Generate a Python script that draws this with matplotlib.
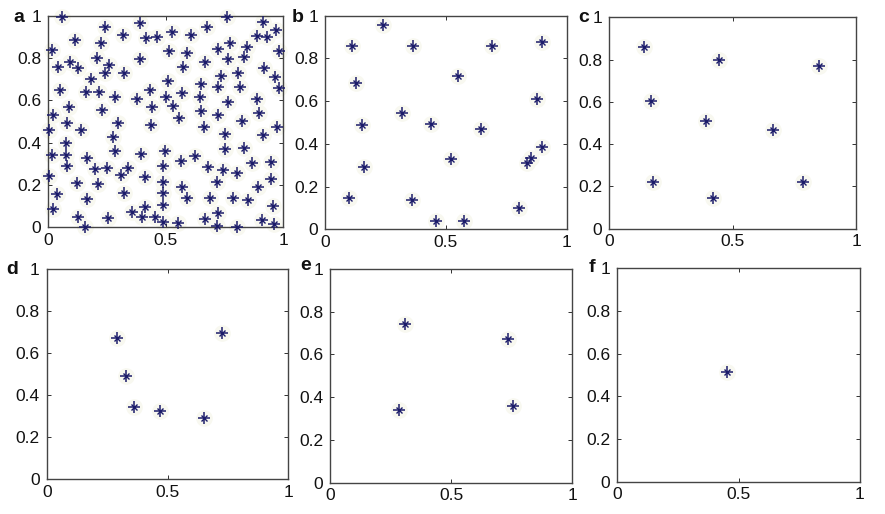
import matplotlib
matplotlib.use("Agg")
import matplotlib.pyplot as plt

plt.rcParams['font.family'] = ['Liberation Sans', 'DejaVu Sans']

# ---- data ----
a_x = [0.057, 0.241, 0.390, 0.759, 0.915, 0.969, 0.113, 0.319, 0.416, 0.461,
       0.525, 0.606, 0.677, 0.889, 0.932, 0.017, 0.223, 0.515, 0.589, 0.723,
       0.773, 0.847, 0.983, 0.043, 0.092, 0.128, 0.206, 0.260, 0.390, 0.241,
       0.322, 0.572, 0.665, 0.765, 0.834, 0.918, 0.966, 0.180, 0.508, 0.733,
       0.809, 0.050, 0.160, 0.217, 0.284, 0.433, 0.376, 0.501, 0.569, 0.648,
       0.645, 0.723, 0.816, 0.983, 0.766, 0.887, 0.088, 0.227, 0.440, 0.532,
       0.021, 0.078, 0.298, 0.437, 0.557, 0.651, 0.722, 0.823, 0.898, 0.004,
       0.139, 0.664, 0.972, 0.753, 0.915, 0.075, 0.277, 0.014, 0.074, 0.284,
       0.393, 0.498, 0.166, 0.078, 0.200, 0.251, 0.340, 0.489, 0.565, 0.623,
       0.753, 0.833, 0.679, 0.742, 0.804, 0.865, 0.946, 0.004, 0.308, 0.410,
       0.121, 0.213, 0.489, 0.567, 0.716, 0.894, 0.946, 0.035, 0.322, 0.487,
       0.166, 0.589, 0.688, 0.784, 0.851, 0.487, 0.021, 0.356, 0.411, 0.723,
       0.957, 0.128, 0.252, 0.397, 0.454, 0.489, 0.550, 0.665, 0.908, 0.156,
       0.719, 0.804, 0.960]
a_y = [0.992, 0.945, 0.964, 0.992, 0.972, 0.933, 0.885, 0.909, 0.893, 0.898,
       0.925, 0.909, 0.945, 0.904, 0.898, 0.838, 0.870, 0.835, 0.822, 0.841,
       0.870, 0.854, 0.835, 0.756, 0.783, 0.751, 0.799, 0.767, 0.794, 0.728,
       0.731, 0.759, 0.780, 0.797, 0.803, 0.751, 0.712, 0.699, 0.692, 0.715,
       0.728, 0.649, 0.640, 0.640, 0.614, 0.649, 0.608, 0.614, 0.633, 0.677,
       0.618, 0.662, 0.662, 0.657, 0.594, 0.608, 0.570, 0.554, 0.570, 0.573,
       0.531, 0.491, 0.491, 0.484, 0.515, 0.551, 0.531, 0.504, 0.539, 0.460,
       0.460, 0.473, 0.473, 0.441, 0.436, 0.400, 0.428, 0.342, 0.342, 0.362,
       0.347, 0.362, 0.326, 0.290, 0.276, 0.282, 0.282, 0.290, 0.313, 0.337,
       0.369, 0.373, 0.284, 0.271, 0.255, 0.302, 0.310, 0.244, 0.247, 0.236,
       0.211, 0.205, 0.213, 0.192, 0.213, 0.192, 0.227, 0.158, 0.164, 0.161,
       0.134, 0.137, 0.140, 0.140, 0.129, 0.106, 0.085, 0.074, 0.095, 0.069,
       0.101, 0.050, 0.046, 0.047, 0.050, 0.027, 0.022, 0.038, 0.035, 0.003,
       0.006, 0.003, 0.016]

b_x = [0.239, 0.110, 0.363, 0.692, 0.899, 0.128, 0.552, 0.876, 0.317, 0.154,
       0.440, 0.644, 0.899, 0.523, 0.854, 0.837, 0.161, 0.101, 0.360, 0.804,
       0.458, 0.577]
b_y = [0.956, 0.860, 0.860, 0.860, 0.878, 0.686, 0.719, 0.612, 0.543, 0.487,
       0.493, 0.471, 0.387, 0.329, 0.335, 0.312, 0.290, 0.148, 0.137, 0.098,
       0.037, 0.037]

c_x = [0.142, 0.446, 0.851, 0.170, 0.391, 0.662, 0.178, 0.786, 0.419]
c_y = [0.861, 0.798, 0.770, 0.606, 0.508, 0.467, 0.222, 0.222, 0.147]

d_x = [0.290, 0.724, 0.328, 0.361, 0.469, 0.651]
d_y = [0.673, 0.697, 0.489, 0.343, 0.324, 0.289]

e_x = [0.309, 0.736, 0.285, 0.757]
e_y = [0.741, 0.672, 0.340, 0.360]

f_x = [0.453]
f_y = [0.516]

panel_names = ['a', 'b', 'c', 'd', 'e', 'f']
xticks = [0, 0.5, 1]
xtick_labels = ['0', '0.5', '1']
yticks = [0, 0.2, 0.4, 0.6, 0.8, 1]
ytick_labels = ['0', '0.2', '0.4', '0.6', '0.8', '1']

# ---- layout (figure fractions) ----
positions = [
    [0.0546, 0.5578, 0.2655, 0.4117],
    [0.3672, 0.5539, 0.2731, 0.4156],
    [0.6885, 0.5551, 0.2788, 0.4113],
    [0.0528, 0.0681, 0.2730, 0.4086],
    [0.3729, 0.0609, 0.2738, 0.4158],
    [0.6975, 0.0628, 0.2742, 0.4152],
]
label_pos = [(19, 17), (298, 17), (584, 18), (12, 270), (306, 265), (592, 268)]

data = [(a_x, a_y), (b_x, b_y), (c_x, c_y), (d_x, d_y), (e_x, e_y), (f_x, f_y)]

W, H = 885, 514
fig = plt.figure(figsize=(W / 100, H / 100), dpi=100)
fig.patch.set_facecolor('white')

mk = '#1c1c6a'
for i, (xs, ys) in enumerate(data):
    ax = fig.add_axes(positions[i])
    ax.plot(xs, ys, linestyle='none', marker='o', markersize=12,
            color='#f8f8f0', markeredgewidth=0, clip_on=False, zorder=1)
    ax.plot(xs, ys, linestyle='none', marker='+', markersize=9,
            color=mk, markeredgewidth=1.1, clip_on=False, zorder=3)
    ax.plot(xs, ys, linestyle='none', marker='x', markersize=5,
            color=mk, markeredgewidth=1.0, clip_on=False, zorder=3)
    ax.set_xlim(0, 1)
    ax.set_ylim(0, 1)
    ax.set_xticks(xticks)
    ax.set_xticklabels(xtick_labels)
    ax.set_yticks(yticks)
    ax.set_yticklabels(ytick_labels)
    ax.tick_params(direction='in', top=True, right=True, length=3,
                   width=0.6, labelsize=12.5, colors='#111111')
    ax.tick_params(axis='y', pad=5)
    ax.tick_params(axis='x', pad=4)
    for s in ax.spines.values():
        s.set_color('#444444')
        s.set_linewidth(1.0)
    lx, ly = label_pos[i]
    fig.text(lx / W, 1 - ly / H, panel_names[i], fontsize=14,
             fontweight='bold', ha='center', va='center', color='#111111')

fig.savefig('out.png', dpi=100, facecolor='white')
